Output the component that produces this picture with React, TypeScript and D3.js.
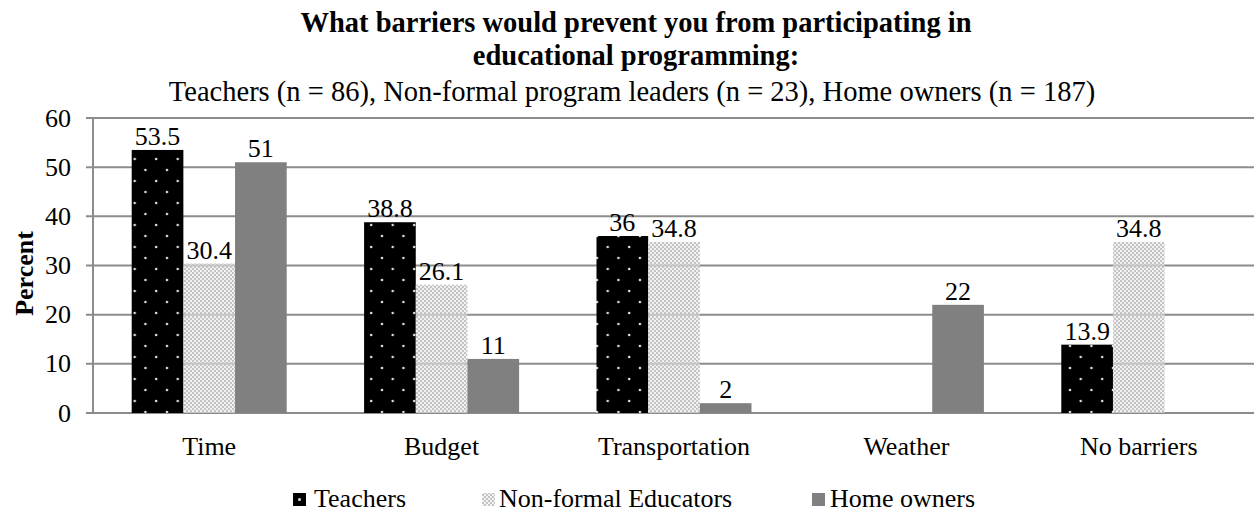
import React from "react";
import * as d3 from "d3";

const categories = ["Time", "Budget", "Transportation", "Weather", "No barriers"];
const seriesNames = ["Teachers", "Non-formal Educators", "Home owners"];
const teachers: (number | null)[] = [53.5, 38.8, 36, null, 13.9];
const nonFormal: (number | null)[] = [30.4, 26.1, 34.8, null, 34.8];
const homeOwners: (number | null)[] = [51, 11, 2, 22, null];
const yTicks = [0, 10, 20, 30, 40, 50, 60];
const titleLines = ["What barriers would prevent you from participating in", "educational programming:"];
const subtitle = "Teachers (n = 86), Non-formal program leaders (n = 23), Home owners (n = 187)";

const W = 1254, H = 512;
const FONT = "'Liberation Serif', 'Times New Roman', serif";
const FS = 26;
const TFS = 28.5;

export default function App() {
  const series = [teachers, nonFormal, homeOwners];
  const fills = ["url(#patTeach)", "url(#patNon)", "#808080"];
  const x = d3.scaleBand<string>().domain(categories).range([93, 1255]).paddingInner(0).paddingOuter(0);
  const inner = d3.scaleBand<number>().domain([0, 1, 2]).range([0, 155]);
  const y = d3.scaleLinear().domain([0, 60]).range([413, 118]);
  const groupOffset = (x.bandwidth() - 155) / 2;
  const gridColor = "#8c8c8c";
  const legendPos = [{ sx: 293, tx: 314 }, { sx: 482, tx: 499 }, { sx: 812, tx: 830 }];

  return (
    <svg width={W} height={H} style={{ position: "absolute", left: 0, top: 0, background: "#fff" }} fontFamily={FONT}>
      <defs>
        <pattern id="patTeach" patternUnits="userSpaceOnUse" width={21.5} height={22} x={131.7} y={0}>
          <rect width={21.5} height={22} fill="#000" />
          <circle cx={3} cy={5} r={1.3} fill="#e0e0e0" />
          <circle cx={13.75} cy={16} r={1.3} fill="#e0e0e0" />
        </pattern>
        <pattern id="patNon" patternUnits="userSpaceOnUse" width={4} height={4}>
          <rect width={4} height={4} fill="#e8e8e8" fillOpacity={0.6} />
          <rect x={0} y={0} width={2} height={2} fill="#c4c4c4" />
          <rect x={2} y={2} width={2} height={2} fill="#c4c4c4" />
        </pattern>
      </defs>

      {/* title */}
      <text x={636} y={32} textAnchor="middle" fontSize={TFS} fontWeight="bold">{titleLines[0]}</text>
      <text x={636} y={65} textAnchor="middle" fontSize={TFS} fontWeight="bold">{titleLines[1]}</text>
      <text x={632} y={101} textAnchor="middle" fontSize={TFS}>{subtitle}</text>

      {/* gridlines */}
      {yTicks.filter(t => t > 0).map(t => (
        <line key={t} x1={86} x2={W} y1={y(t)} y2={y(t)} stroke={gridColor} strokeWidth={2} />
      ))}
      {/* axes */}
      <line x1={93} x2={93} y1={y(60)} y2={y(0)} stroke={gridColor} strokeWidth={2} />
      <line x1={86} x2={W} y1={y(0)} y2={y(0)} stroke={gridColor} strokeWidth={2} />
      {yTicks.map(t => (
        <text key={t} x={71} y={y(t)} textAnchor="end" dominantBaseline="central" fontSize={FS}>{t}</text>
      ))}
      <text transform={`translate(24,${(y(0) + y(60)) / 2 + 8}) rotate(-90)`} textAnchor="middle" dominantBaseline="central" fontSize={FS} fontWeight="bold">Percent</text>

      {/* bars */}
      {categories.map((c, ci) => (
        <g key={c}>
          {series.map((s, si) => {
            const v = s[ci];
            if (v == null) return null;
            const bx = (x(c) as number) + groupOffset + (inner(si) as number);
            const bw = inner.bandwidth();
            return (
              <g key={si}>
                <rect x={bx} y={y(v)} width={bw} height={y(0) - y(v)} fill={fills[si]} />
                <text x={bx + bw / 2} y={y(v) - 5} textAnchor="middle" fontSize={FS}>{v}</text>
              </g>
            );
          })}
          <text x={(x(c) as number) + x.bandwidth() / 2} y={455} textAnchor="middle" fontSize={FS}>{c}</text>
        </g>
      ))}

      {/* legend */}
      {legendPos.map((p, i) => (
        <g key={i}>
          <rect x={p.sx} y={493} width={13} height={13} fill={i === 0 ? "#000" : fills[i]} />
          {i === 0 && <circle cx={p.sx + 6.5} cy={499.5} r={1.5} fill="#e0e0e0" />}
          <text x={p.tx} y={507} fontSize={FS}>{seriesNames[i]}</text>
        </g>
      ))}
    </svg>
  );
}
